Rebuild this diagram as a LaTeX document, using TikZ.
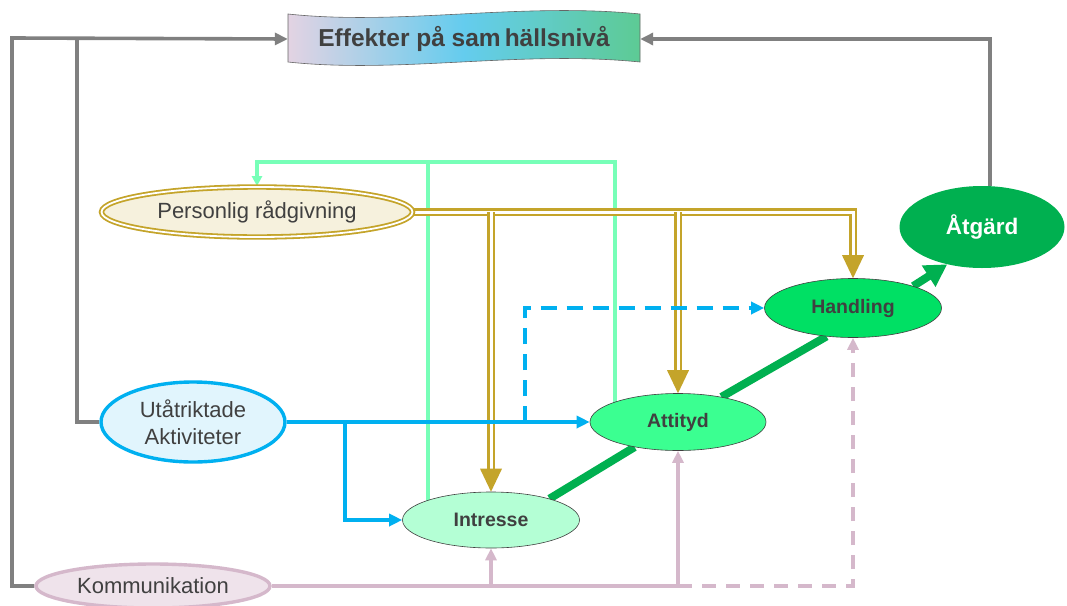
\documentclass[tikz,border=0pt]{standalone}
\usepackage{fontspec}
\setmainfont{Liberation Sans}
\usetikzlibrary{shapes.geometric,arrows.meta,calc}
\definecolor{txt}{HTML}{404040}
\definecolor{gld}{HTML}{C4A42A}
\definecolor{cream}{HTML}{F6F1DD}
\definecolor{sky}{HTML}{00B0F0}
\definecolor{skyfill}{HTML}{E1F5FD}
\definecolor{mint}{HTML}{77FFB8}
\definecolor{lilac}{HTML}{D5B8CB}
\definecolor{lilacfill}{HTML}{EFE3EB}
\definecolor{greyl}{HTML}{808080}
\definecolor{gdark}{HTML}{00B050}
\definecolor{ghand}{HTML}{00E064}
\definecolor{gatt}{HTML}{3BFF91}
\definecolor{gint}{HTML}{B4FFD5}
\definecolor{banl}{HTML}{E3D3E3}
\definecolor{banm}{HTML}{64CCEE}
\definecolor{banr}{HTML}{5DCB94}
\pgfdeclarelayer{back}
\pgfdeclarelayer{bg}
\pgfsetlayers{back,bg,main}
\begin{document}
\begin{tikzpicture}[x=1pt,y=-1pt,
  every node/.style={text=txt},
  oval/.style={ellipse, inner sep=0pt, draw=black!75, line width=0.6pt},
  regtxt/.style={font=\fontsize{22}{27}\selectfont},
  boldtxt/.style={font=\fontsize{19.5}{24}\selectfont\bfseries},
  greyline/.style={draw=greyl, line width=3.6pt},
  greyarrow/.style={greyline, -{Triangle[length=13pt,width=12pt]}},
  blueline/.style={draw=sky, line width=3.6pt},
  bluearrow/.style={blueline, -{Triangle[length=13pt,width=12pt]}},
  mintline/.style={draw=mint, line width=3.4pt},
  lilacline/.style={draw=lilac, line width=3.6pt},
  lilacarrow/.style={lilacline, -{Triangle[length=12pt,width=11pt]}},
  golddouble/.style={draw=gld, line width=2.2pt, double=white, double distance=3pt},
  thickgreen/.style={draw=gdark, line width=8pt},
]
\begin{pgfonlayer}{back}
\fill[white] (0,0) rectangle (1067,605);
\end{pgfonlayer}
\useasboundingbox (0,0) rectangle (1067,605);

% banner
\shadedraw[left color=banl, right color=banr, middle color=banm, draw=black!60, line width=0.6pt]
  (288,14) .. controls (400,26) and (520,2) .. (640,14) -- (640,62)
  .. controls (520,50) and (400,74) .. (288,62) -- cycle;
\node[minimum width=352pt, minimum height=48pt, inner sep=0pt, font=\fontsize{24.5}{29}\selectfont\bfseries] (ban) at (464,39) {Effekter på sam\kern4pt hällsnivå};

% nodes
\node[oval, draw=gld, line width=1.8pt, double=white, double distance=1.8pt, fill=cream,
  minimum width=311pt, minimum height=50pt, regtxt] (pers) at (257,212) {Personlig rådgivning};
\node[oval, draw=sky, line width=3.4pt, fill=skyfill, minimum width=184pt, minimum height=80pt,
  regtxt, align=center] (utat) at (193,422) {Utåtriktade\\Aktiviteter};
\node[oval, draw=lilac, line width=3.4pt, fill=lilacfill, minimum width=234pt, minimum height=44pt,
  regtxt] (komm) at (153,586) {Kommunikation};
\node[oval, fill=gint, minimum width=177pt, minimum height=56pt, boldtxt] (intr) at (491,520) {Intresse};
\node[oval, fill=gatt, minimum width=176pt, minimum height=57pt, boldtxt] (att) at (678,422) {Attityd};
\node[oval, fill=ghand, minimum width=177pt, minimum height=59pt, boldtxt] (hand) at (853,308) {Handling};
\node[ellipse, inner sep=0pt, fill=gdark, minimum width=165pt, minimum height=82pt,
  font=\fontsize{22.5}{27}\selectfont\bfseries, text=white] (atg) at (982,227) {Åtgärd};

\begin{pgfonlayer}{bg}
% grey feedback lines
\coordinate (gl) at (12,38);
\coordinate (gi) at (77,38);
\draw[greyarrow] (komm.west) -| (gl) -- (ban.west);
\draw[greyline] (utat.west) -| (gi);
\draw[greyarrow] ($(atg.north)+(8,0)$) |- (ban.east);

% mint lines
\coordinate (ileft) at ($(intr.center)+(-63,0)$);
\coordinate (aleft) at ($(att.center)+(-63,0)$);
\coordinate (ptop) at ($(pers.north)+(0,-24)$);
\draw[mintline] (ileft) -- (ileft |- ptop);
\draw[mintline, -{Triangle[length=10pt,width=10pt]}] (aleft) |- (ptop) -- (pers.north);

% gold double lines
\draw[golddouble] (pers.east) -| ($(hand.north)+(0,-22)$);
\draw[golddouble] (intr.north |- pers.east) -- ($(intr.north)+(0,-22)$);
\draw[golddouble] (att.north |- pers.east) -- ($(att.north)+(0,-22)$);
\foreach \n in {intr,att,hand}
  \fill[gld] (\n.north) -- ++(-11,-23) -- ++(22,0) -- cycle;

% blue lines
\coordinate (bsplit) at ($(utat.east)+(58,0)$);
\coordinate (bdash) at ($(utat.east)+(238,0)$);
\draw[bluearrow] (utat.east) -- (att.west);
\draw[bluearrow] (bsplit) |- (intr.west);
\draw[bluearrow, dash pattern=on 16pt off 10pt] (bdash) |- (hand.west);

% lilac lines
\draw[lilacline] (komm.east) -- (att.south |- komm.east);
\draw[lilacarrow] (intr.south |- komm.east) -- (intr.south);
\draw[lilacarrow] (att.south |- komm.east) -- (att.south);
\draw[lilacarrow, dash pattern=on 14pt off 10pt] (att.south |- komm.east) -| (hand.south);

% main green chain
\draw[thickgreen] (intr.20) -- (att.210.6);
\draw[thickgreen] (att.30.6) -- (hand.227);
\draw[thickgreen, -{Triangle[length=22pt,width=24pt]}] (hand.20.7) -- (atg.227);
\end{pgfonlayer}
\end{tikzpicture}
\end{document}
